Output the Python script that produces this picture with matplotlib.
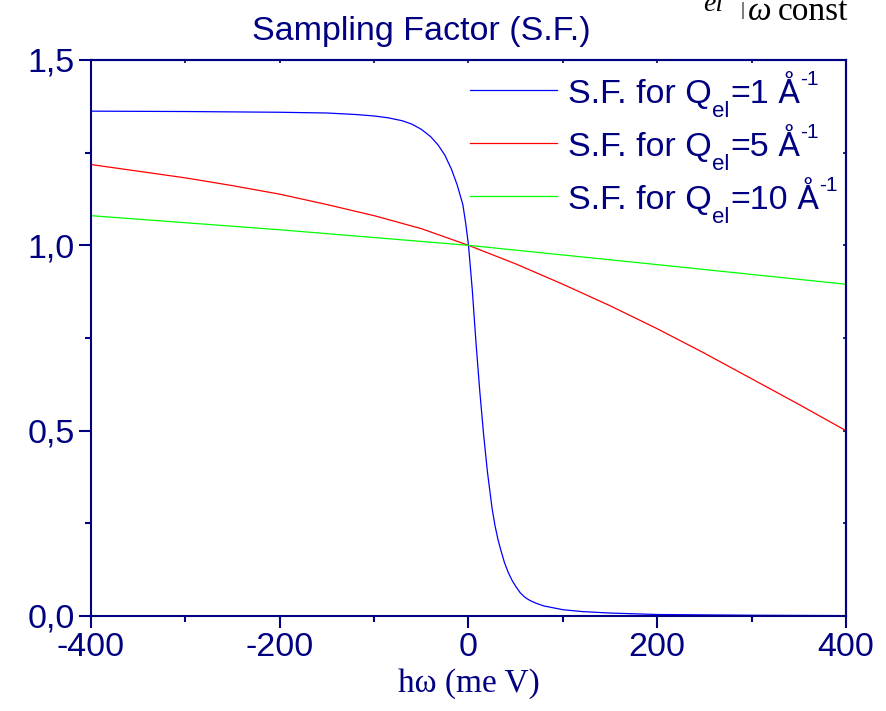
import matplotlib
matplotlib.use("Agg")
import matplotlib.pyplot as plt
from matplotlib.lines import Line2D
from matplotlib.ticker import FixedLocator, MultipleLocator

# Energy transfer hw (meV) and sampling factor for three elastic momentum transfers
omega_q1 = [-400, -300, -200, -150, -120, -100, -85, -70, -60, -50, -40, -32, -25,
            -18, -12, -6, -3, 0, 4, 8, 12, 16, 20, 25, 28, 31, 34, 38, 42, 46, 50,
            55, 60, 65, 72, 80, 100, 120, 150, 200, 300, 400]
sf_q1 = [1.362, 1.361, 1.359, 1.357, 1.353, 1.349, 1.344, 1.336, 1.327, 1.313, 1.293,
         1.27, 1.243, 1.205, 1.163, 1.11, 1.06, 1.0, 0.88, 0.735, 0.605, 0.49, 0.39,
         0.29, 0.245, 0.209, 0.18, 0.145, 0.118, 0.097, 0.08, 0.062, 0.05, 0.042,
         0.034, 0.027, 0.017, 0.012, 0.008, 0.004, 0.002, 0.001]

omega_q5 = [-400, -350, -300, -250, -200, -150, -100, -50, 0, 50, 100, 150, 200,
            250, 300, 350, 400]
sf_q5 = [1.218, 1.20, 1.182, 1.161, 1.138, 1.11, 1.08, 1.045, 1.0, 0.95, 0.895,
         0.837, 0.775, 0.709, 0.64, 0.571, 0.50]

omega_q10 = [-400, -200, 0, 200, 400]
sf_q10 = [1.08, 1.042, 1.0, 0.948, 0.895]

q_values = ["1", "5", "10"]
line_colors = ["#0000ff", "#ff0000", "#00ff00"]
x_ticks = [-400, -200, 0, 200, 400]
x_tick_labels = ["-400", "-200", "0", "200", "400"]
y_ticks = [0.0, 0.5, 1.0, 1.5]
y_tick_labels = ["0,0", "0,5", "1,0", "1,5"]

NAVY = "#000080"
SANS = ["Liberation Sans", "DejaVu Sans"]

plt.rcParams["font.family"] = SANS

W, H = 887, 711
fig = plt.figure(figsize=(W / 100, H / 100), dpi=100)
ax = fig.add_axes([91 / W, 1 - 616 / H, (846 - 91) / W, (616 - 60) / H])


def fx(px):
    return px / W


def fy(py):
    return 1 - py / H


ax.plot(omega_q1, sf_q1, color=line_colors[0], lw=0.9)
ax.plot(omega_q5, sf_q5, color=line_colors[1], lw=0.9)
ax.plot(omega_q10, sf_q10, color=line_colors[2], lw=0.9)

ax.set_xlim(-400, 400)
ax.set_ylim(0, 1.5)

ax.xaxis.set_major_locator(FixedLocator(x_ticks))
ax.set_xticklabels(x_tick_labels)
ax.xaxis.set_minor_locator(MultipleLocator(100))
ax.yaxis.set_major_locator(FixedLocator(y_ticks))
ax.set_yticklabels(y_tick_labels)
ax.yaxis.set_minor_locator(MultipleLocator(0.25))

for sp in ax.spines.values():
    sp.set_color(NAVY)
    sp.set_linewidth(1.5)

ax.tick_params(which="both", direction="out", color=NAVY, labelcolor=NAVY,
               top=False, right=False, width=1.5)
ax.tick_params(which="major", length=8.5, labelsize=24.5, pad=3)
ax.tick_params(which="minor", length=4.5)

# small inward ticks along the top and right edges
top = ax.secondary_xaxis("top")
top.xaxis.set_major_locator(MultipleLocator(100))
top.tick_params(direction="in", length=2.5, width=1.2, color=NAVY, labeltop=False)
top.spines["top"].set_color(NAVY)
top.spines["top"].set_linewidth(1.5)
right = ax.secondary_yaxis("right")
right.yaxis.set_major_locator(MultipleLocator(0.25))
right.tick_params(direction="in", length=2.5, width=1.2, color=NAVY, labelright=False)
right.spines["right"].set_color(NAVY)
right.spines["right"].set_linewidth(1.5)

fig.text(fx(421.5), fy(40), "Sampling Factor (S.F.)", color=NAVY, fontsize=24.5,
         ha="center", va="baseline")
ax.set_xlabel("hω (me V)", color=NAVY, fontsize=24, family=["Liberation Serif"],
              labelpad=4)

renderer = fig.canvas.get_renderer()


def rich_text(x0, base, pieces):
    """Draw consecutive text pieces (text, size, baseline shift px, family, gap px)."""
    x = x0
    for txt, size, dy, family, gap in pieces:
        x += gap
        t = fig.text(fx(x), fy(base + dy), txt, fontsize=size, color=NAVY,
                     family=family, ha="left", va="baseline")
        x = t.get_window_extent(renderer).x1 + 0.5


# legend drawn by hand: sample line, label with subscript and superscript
angstrom_font = ["Roboto", "Noto Sans", "DejaVu Sans"]
for i, (q, col) in enumerate(zip(q_values, line_colors)):
    base = 103 + 53 * i
    fig.add_artist(Line2D([fx(470), fx(557)], [fy(base - 13), fy(base - 13)],
                          color=col, lw=0.9, transform=fig.transFigure))
    rich_text(568, base, [("S.F. for Q", 24.5, 0, SANS, 0),
                          ("el", 16, 14, SANS, 0),
                          ("=" + q, 24.5, 0, SANS, 0),
                          ("Å", 24.5, 0, angstrom_font, 8),
                          ("-1", 15, -18, SANS, 0)])

# partial formula in the upper right corner
serif = ["Liberation Serif", "DejaVu Serif"]
fig.text(fx(703), fy(11), "el", fontsize=20, style="italic", family=serif,
         va="baseline", ha="left")
fig.text(fx(741), fy(15), "|", fontsize=14, family=serif, va="baseline", ha="left")
fig.text(fx(748), fy(20), "ω", fontsize=24, style="italic", family=serif,
         va="baseline", ha="left")
fig.text(fx(778), fy(20), "const", fontsize=24, family=serif, va="baseline",
         ha="left")

fig.savefig("out.png", dpi=100)
